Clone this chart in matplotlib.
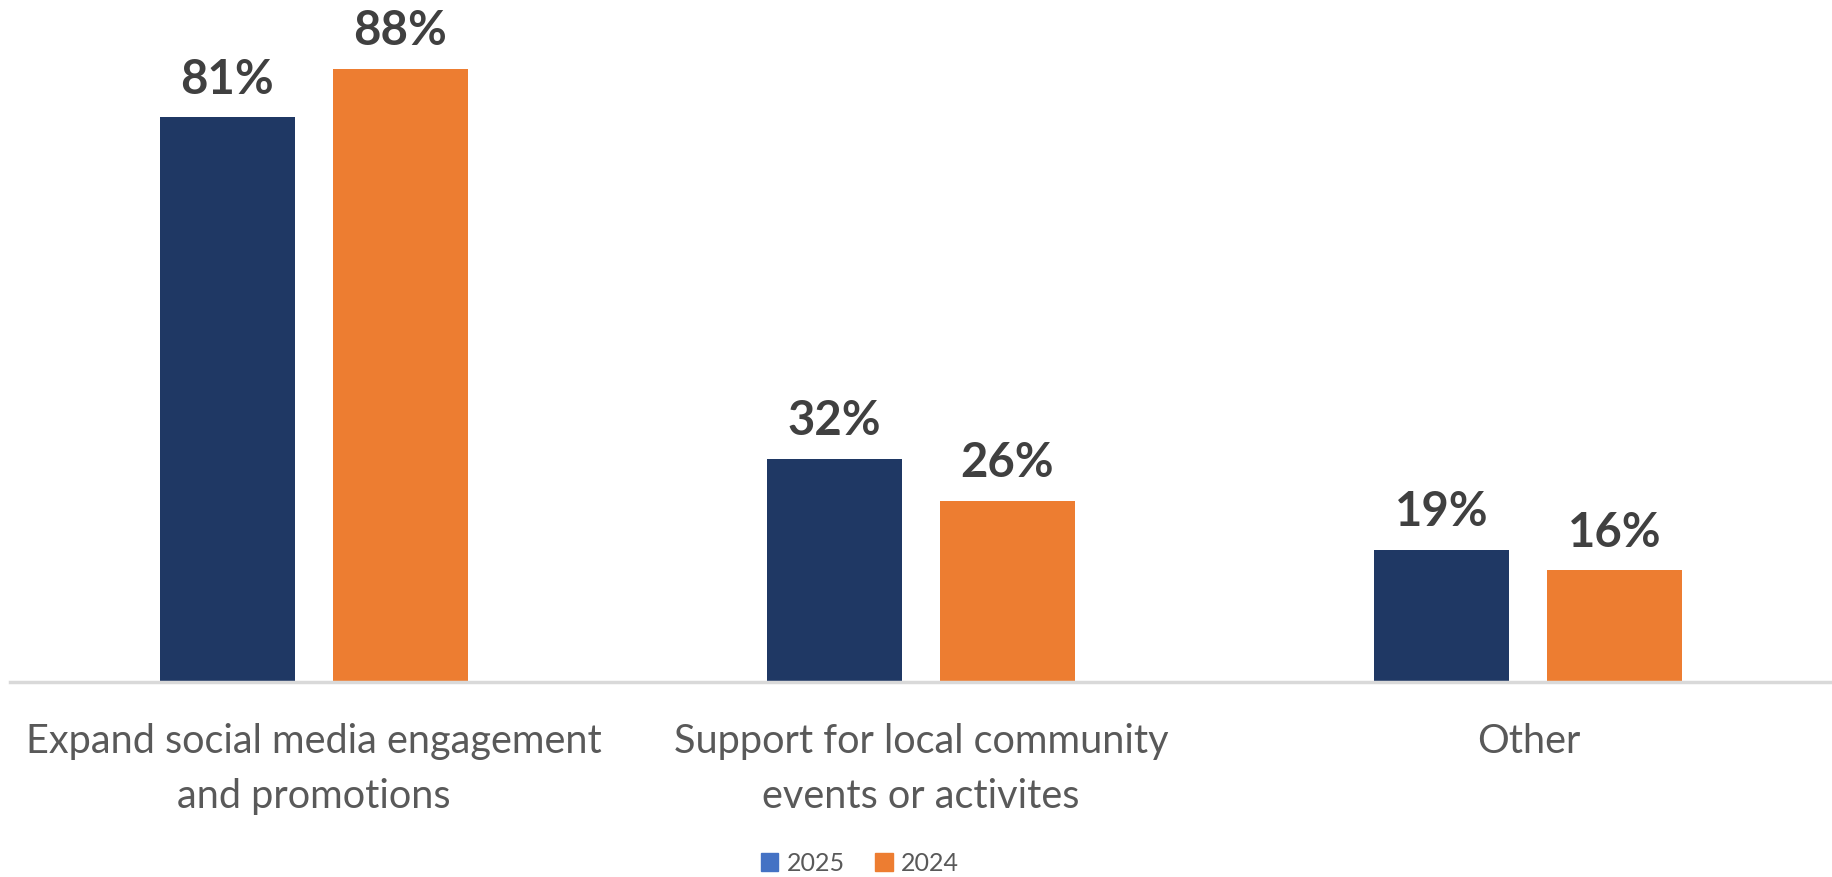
import matplotlib
matplotlib.use("Agg")
import matplotlib.pyplot as plt
from matplotlib.patches import Patch
import numpy as np

# survey results, share of respondents
categories = ["Expand social media engagement\nand promotions",
              "Support for local community\nevents or activites",
              "Other"]
share_2025 = [0.81, 0.32, 0.19]
share_2024 = [0.88, 0.26, 0.16]
years = ["2025", "2024"]

navy = "#1F3864"
orange = "#ED7D31"
legend_blue = "#4472C4"
text_gray = "#595959"
label_gray = "#404040"

plt.rcParams["font.family"] = ["Lato", "DejaVu Sans"]

fig = plt.figure(figsize=(18.32, 8.78), dpi=100)
ax = fig.add_axes([10 / 1832, (878 - 683) / 878, 1 - 10 / 1832, 683 / 878])

x = np.arange(len(categories))
width = 0.222
offset = 0.1425

b1 = ax.bar(x - offset, share_2025, width, color=navy)
b2 = ax.bar(x + offset, share_2024, width, color=orange)

for bars in (b1, b2):
    ax.bar_label(bars, labels=[f"{v:.0%}" for v in bars.datavalues],
                 padding=12, fontsize=34, fontweight="bold", color=label_gray)

ax.set_xlim(-0.5, 2.5)
ax.set_ylim(0, 0.98)
ax.set_yticks([])
for side in ["left", "right", "top"]:
    ax.spines[side].set_visible(False)
ax.spines["bottom"].set_color("#D9D9D9")
ax.spines["bottom"].set_linewidth(2.5)

ax.set_xticks(x)
ax.set_xticklabels(categories, fontsize=28.5, color=text_gray, linespacing=1.6)
ax.tick_params(axis="x", length=0, pad=29)

handles = [Patch(color=legend_blue), Patch(color=orange)]
fig.legend(handles, years, loc="center", bbox_to_anchor=(860 / 1832, 1 - 864 / 878),
           ncol=2, frameon=False, fontsize=18, labelcolor=text_gray,
           handlelength=0.7, handleheight=0.7, handletextpad=0.35, columnspacing=1.2)

fig.savefig("out.png", dpi=100, facecolor="white")
